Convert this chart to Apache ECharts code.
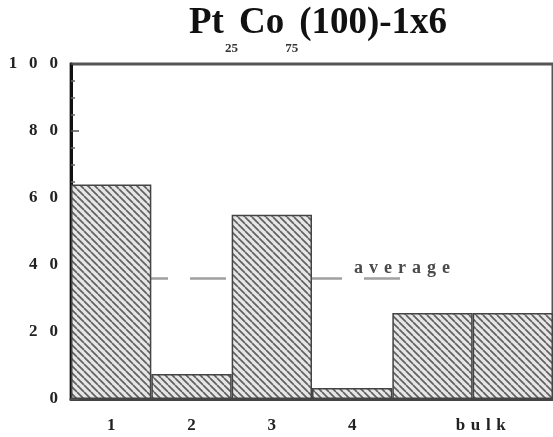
<!DOCTYPE html>
<html>
<head>
<meta charset="utf-8">
<title>Pt25Co75(100)-1x6</title>
<script src="https://cdn.jsdelivr.net/npm/echarts@6/dist/echarts.min.js"></script>
<style>
  html, body { margin: 0; padding: 0; background: #fff; overflow: hidden; }
  #chart { width: 553px; height: 437px; }
</style>
</head>
<body>
<div id="chart"></div>
<script>
// Layer-resolved Pt concentration (%) for the 1x6 reconstructed surface
const layers = ['1', '2', '3', '4'];
const layerPt = [64, 7.5, 55, 3.3];
const bulkPt = 25.7;               // bulk value, drawn across two slots
const averagePt = 36;              // dashed "average" reference level

// x positions (in slot units) of the category labels
const labelTexts = ['1', '2', '3', '4', 'bulk'];
const labelSlots = [0.5, 1.5, 2.5, 3.5, 5.1];

const yTicks = [0, 20, 40, 60, 80, 100];

const serif = '"Liberation Serif", "DejaVu Serif", serif';

// Diagonal hatch fill for the bars
function hatchPattern() {
  const s = 7;
  const c = document.createElement('canvas');
  c.width = s; c.height = s;
  const g = c.getContext('2d');
  g.fillStyle = '#e6e6e6';
  g.fillRect(0, 0, s, s);
  g.strokeStyle = '#606060';
  g.lineWidth = 1.7;
  for (const o of [-s, 0, s]) {
    g.beginPath();
    g.moveTo(o, 0);
    g.lineTo(o + s, s);
    g.stroke();
  }
  return c;
}

const barValues = layerPt.concat([bulkPt, bulkPt]);
const slotNames = layers.concat(['bulk', 'bulk']);

const labelMap = {};
labelSlots.forEach((p, i) => { labelMap[Math.round(p * 10)] = labelTexts[i]; });

const spaced = (s, sep) => String(s).split('').join(sep);

const chart = echarts.init(document.getElementById('chart'), null, { renderer: 'canvas' });

chart.setOption({
  animation: false,
  backgroundColor: '#fff',
  title: {
    text: '{m|Pt}{s|25}{m|Co}{s|75}{m|(100)-1x6}',
    left: 189,
    top: 5,
    padding: 0,
    textStyle: {
      rich: {
        m: { fontFamily: serif, fontWeight: 'bold', fontSize: 37, lineHeight: 36, color: '#111', verticalAlign: 'top' },
        s: { fontFamily: serif, fontWeight: 'bold', fontSize: 13, color: '#333', verticalAlign: 'top', padding: [37, 1, 0, 1] }
      }
    }
  },
  grid: {
    left: 71, right: 0, top: 64, bottom: 38,
    show: true,
    borderColor: '#555',
    borderWidth: 3,
    containLabel: false,
    outerBoundsMode: 'none'
  },
  xAxis: [
    {
      type: 'category',
      data: slotNames,
      boundaryGap: true,
      axisLine: { show: true, lineStyle: { color: '#444', width: 3 } },
      axisTick: { show: false },
      axisLabel: { show: false },
      splitLine: { show: false }
    },
    {
      type: 'value',
      min: 0, max: 6, interval: 0.1,
      position: 'bottom',
      axisLine: { show: false },
      axisTick: { show: false },
      splitLine: { show: false },
      axisLabel: {
        show: true,
        margin: 18,
        hideOverlap: false,
        showMinLabel: true,
        showMaxLabel: true,
        fontFamily: serif,
        fontWeight: 'bold',
        fontSize: 17,
        color: '#222',
        formatter: v => {
          const t = labelMap[Math.round(v * 10)];
          return t ? spaced(t, '\u2004') : '';
        }
      }
    }
  ],
  yAxis: {
    type: 'value',
    min: yTicks[0],
    max: yTicks[yTicks.length - 1],
    interval: yTicks[1] - yTicks[0],
    axisLine: { show: true, lineStyle: { color: '#111', width: 3 } },
    axisTick: { show: true, inside: true, length: 8, lineStyle: { color: '#555', width: 1.5 } },
    minorTick: { show: true, splitNumber: 4, length: 4, lineStyle: { color: '#666', width: 1.5 } },
    splitLine: { show: false },
    axisLabel: {
      margin: 13,
      fontFamily: serif,
      fontWeight: 'bold',
      fontSize: 17,
      color: '#222',
      formatter: v => spaced(v, '\u2002\u2009')
    }
  },
  series: [
    {
      name: 'average',
      type: 'line',
      xAxisIndex: 1,
      yAxisIndex: 0,
      z: 1,
      symbol: 'circle',
      symbolSize: 0,
      showSymbol: true,
      silent: true,
      clip: false,
      lineStyle: { color: '#a0a0a0', width: 2.5, type: [36, 22], dashOffset: 55 },
      labelLayout: { hideOverlap: false },
      data: [
        [0, averagePt],
        {
          value: [4.12, averagePt],
          label: {
            show: true,
            position: 'top',
            distance: 1,
            opacity: 1,
            formatter: () => spaced('average', '\u2004'),
            fontFamily: serif,
            fontWeight: 'bold',
            fontSize: 18,
            color: '#4a4a4a'
          }
        }
      ]
    },
    {
      name: 'Pt',
      type: 'bar',
      xAxisIndex: 0,
      yAxisIndex: 0,
      z: 2,
      barWidth: '100%',
      barCategoryGap: '0%',
      itemStyle: {
        color: { image: hatchPattern(), repeat: 'repeat' },
        borderColor: '#444',
        borderWidth: 1.5
      },
      data: barValues
    }
  ]
});
</script>
</body>
</html>
